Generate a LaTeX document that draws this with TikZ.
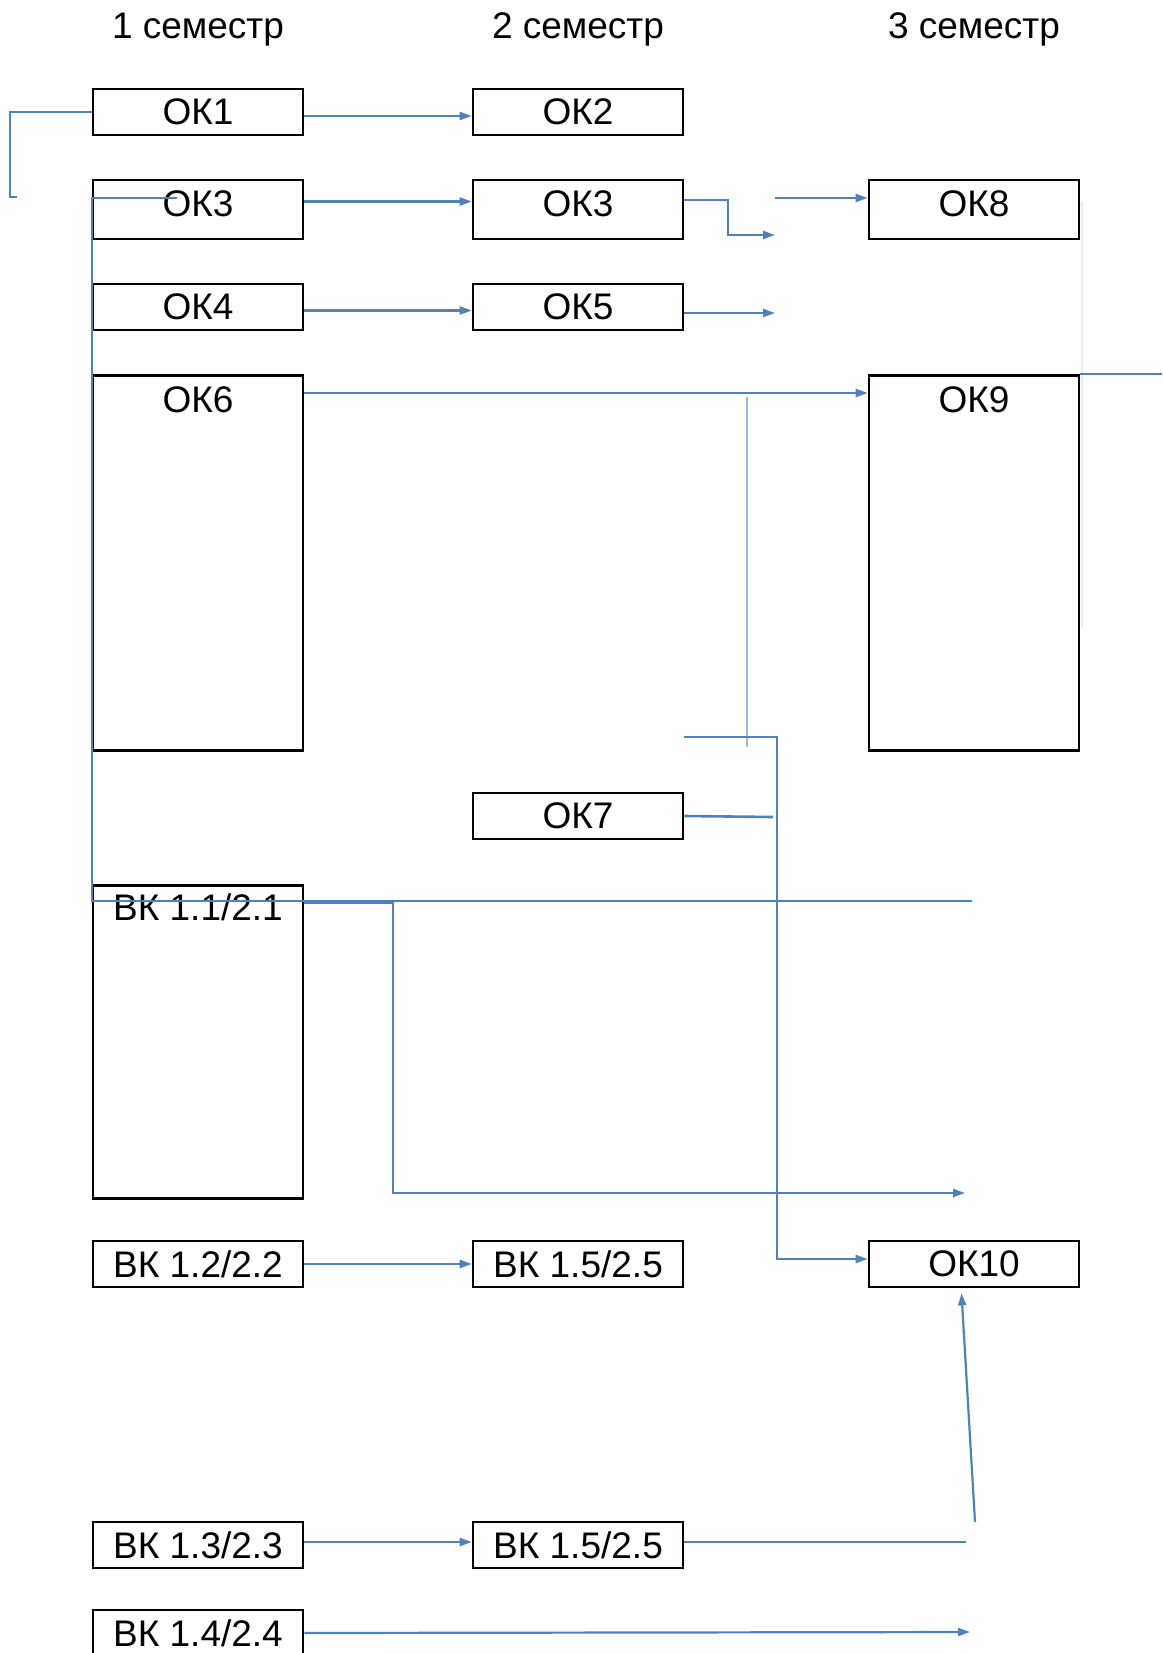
\documentclass[tikz,border=0pt]{standalone}
\usepackage{fontspec}
\newfontfamily\libfont{Liberation Sans}
\usetikzlibrary{arrows.meta}
\definecolor{lnblue}{HTML}{4F81BD}
\definecolor{faintblue}{HTML}{E6ECF5}
\tikzset{
  box/.style={draw=black, line width=2.6pt, minimum width=210pt, minimum height=46pt, inner sep=0pt, font=\libfont\fontsize{37}{40}\selectfont},
  tallrow/.style={minimum height=59pt, text depth=12pt},
  lbl/.style={inner sep=0pt, font=\libfont\fontsize{37}{40}\selectfont},
  hdr/.style={inner sep=0pt, font=\libfont\fontsize{37}{40}\selectfont},
  conn/.style={draw=lnblue, line width=2.2pt},
  arr/.style={conn, -{Triangle[length=12pt,width=8pt]}},
}
\begin{document}
\begin{tikzpicture}[x=1pt, y=-1pt]
\clip (0,0) rectangle (1162,1653);
\fill[white] (0,0) rectangle (1162,1653);
% headers
\node[hdr, anchor=base] (h1) at (198,39) {1 семестр};
\node[hdr, anchor=base] (h2) at (578,39) {2 семестр};
\node[hdr, anchor=base] (h3) at (974,39) {3 семестр};
% column 1
\node[box] (ok1) at (198,112) {ОК1};
\node[box, tallrow] (ok3a) at (198,209.5) {ОК3};
\node[box] (ok4) at (198,307) {ОК4};
\node[box, minimum height=375pt, anchor=north] (ok6) at (198,374) {};
\node[lbl, anchor=base] (ok6t) at ([yshift=-38pt]ok6.north) {ОК6};
\node[box, minimum height=313pt, anchor=north] (bk11) at (198,884) {};
\node[lbl, anchor=base] (bk11t) at ([yshift=-36pt]bk11.north) {ВК 1.1/2.1};
\node[box] (bk12) at (198,1264) {ВК 1.2/2.2};
\node[box] (bk13) at (198,1545) {ВК 1.3/2.3};
\node[box] (bk14) at (198,1633) {ВК 1.4/2.4};
% column 2
\node[box] (ok2) at (578,112) {ОК2};
\node[box, tallrow] (ok3b) at (578,209.5) {ОК3};
\node[box] (ok5) at (578,307) {ОК5};
\node[box] (ok7) at (578,816) {ОК7};
\node[box] (bk15a) at (578,1264) {ВК 1.5/2.5};
\node[box] (bk15b) at (578,1545) {ВК 1.5/2.5};
% column 3
\node[box, tallrow] (ok8) at (974,209.5) {ОК8};
\node[box, minimum height=375pt, anchor=north] (ok9) at (974,374) {};
\node[lbl, anchor=base] (ok9t) at ([yshift=-38pt]ok9.north) {ОК9};
\node[box] (ok10) at (974,1264) {ОК10};
% free ends
\coordinate (c1) at (10,197);
\coordinate (c1b) at (17,197);
\coordinate (c3a) at (177,198);
\coordinate (c3end) at (972,901);
\coordinate (c5) at (775,235);
\coordinate (c6) at (775,198);
\coordinate (c8) at (775,313);
\coordinate (c10a) at (747,397);
\coordinate (c10b) at (747,747);
\coordinate (c11a) at (684,737);
\coordinate (c11b) at (777,737);
\coordinate (c12) at (773,817);
\coordinate (c13) at (965,1193);
\coordinate (c14a) at (1082,202);
\coordinate (c14b) at (1082,627);
\coordinate (c16) at (975,1522);
\coordinate (c18) at (966,1542);
\coordinate (c19) at (970,1632);
% connectors
\draw[conn] (ok1.west) -| (c1) -- (c1b);
\draw[arr] ([yshift=-4pt]ok1.east) -- ([yshift=-4pt]ok2.west);
\draw[conn] (c3a) -- (c3a -| ok3a.west) -- (c3end -| ok3a.west) -- (c3end);
\draw[arr] ([yshift=8pt]ok3a.east) -- ([yshift=8pt]ok3b.west);
\draw[arr] ([yshift=9.5pt]ok3b.east) -- ++(44,0) |- (c5);
\draw[arr] (c6) -- (c6 -| ok8.west);
\draw[arr] ([yshift=-3.5pt]ok4.east) -- ([yshift=-3.5pt]ok5.west);
\draw[arr] (c8 -| ok5.east) -- (c8);
\draw[arr] ([yshift=-19pt]ok6.north east) -- ([yshift=-19pt]ok9.north west);
\draw[conn, draw=lnblue!55] (c10a) -- (c10b);
\draw[arr] (c11a) -- (c11b) |- ([yshift=5pt]ok10.west);
\draw[conn, line width=2.6pt] (ok7.east) -- (c12);
\draw[arr] ([yshift=-19pt]bk11.north east) -- ++(89,0) |- (c13);
\draw[draw=faintblue, line width=1.5pt] (c14a) -- (c14b);
\draw[conn] (ok9.north east) -- ++(85,0);
\draw[arr] (bk12.east) -- (bk15a.west);
\draw[arr] (c16) -- ([xshift=-12.5pt,yshift=-5pt]ok10.south);
\draw[arr] ([yshift=3pt]bk13.east) -- ([yshift=3pt]bk15b.west);
\draw[conn, line width=2.8pt] (c18 -| bk15b.east) -- (c18);
\draw[arr] (bk14.east) -- (c19);
\end{tikzpicture}
\end{document}
